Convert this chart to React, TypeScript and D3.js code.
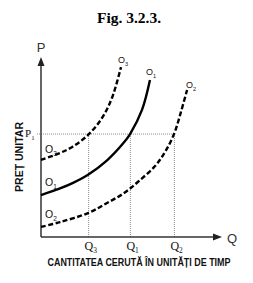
import { useEffect, useRef } from 'react';
import * as d3 from 'd3';

// curve points: [quantity, price] in 0..100 units
const curveO3: [number, number][] = [
  [0, 42.8], [10.5, 46.7], [17.7, 50.3], [26.0, 56.7], [33.7, 66.1], [39.2, 77.2], [44.2, 94.4],
];
const curveO1: [number, number][] = [
  [0, 23.3], [10.5, 27.0], [17.7, 30.1], [26.0, 34.6], [36.5, 42.6], [45.3, 51.9], [49.2, 57.2],
  [55.8, 70.6], [60.2, 87.2],
];
const curveO2: [number, number][] = [
  [0, 5.6], [10.5, 8.3], [26.0, 13.3], [36.5, 18.9], [45.9, 24.4], [54.1, 31.1], [63.0, 39.4],
  [68.5, 47.2], [73.5, 57.2], [77.3, 69.4], [80.7, 81.7],
];

const qTicks = [
  { label: 'Q', sub: '3', value: 26.3 },
  { label: 'Q', sub: '1', value: 49.4 },
  { label: 'Q', sub: '2', value: 73.7 },
];
const pTick = { label: 'P', sub: '1', value: 57.2 };

const title = 'Fig. 3.2.3.';
const xTitle = 'CANTITATEA CERUTĂ ÎN UNITĂȚI DE TIMP';
const yTitle = 'PREȚ UNITAR';

export default function App() {
  const svgRef = useRef<SVGSVGElement>(null);

  useEffect(() => {
    if (!svgRef.current) return;
    const width = 253;
    const height = 283;
    const svg = d3.select(svgRef.current);
    svg.selectAll('*').remove();
    svg.attr('width', width).attr('height', height);

    const x = d3.scaleLinear().domain([0, 100]).range([41, 222]);
    const y = d3.scaleLinear().domain([0, 100]).range([237, 57]);
    const sans = 'Liberation Sans, Arial, sans-serif';
    const serif = 'Liberation Serif, serif';

    const sub = (px: number, py: number, main: string, s: string, font: string, size: number, color = '#111') => {
      const t = svg.append('text')
        .attr('x', px).attr('y', py)
        .style('font-family', font)
        .style('font-size', `${size}px`)
        .style('fill', color);
      t.append('tspan').text(main);
      t.append('tspan').attr('dy', size * 0.28).style('font-size', `${size * 0.62}px`).text(s);
    };

    // title
    svg.append('text')
      .attr('x', 129).attr('y', 23)
      .attr('text-anchor', 'middle')
      .style('font-family', serif)
      .style('font-weight', 'bold')
      .style('font-size', '15.5px')
      .style('fill', '#000')
      .text(title);

    // dotted guides
    const grid = svg.append('g')
      .attr('stroke', '#8c8c8c')
      .attr('stroke-width', 1)
      .attr('stroke-dasharray', '1,1')
      .attr('fill', 'none');
    grid.append('line')
      .attr('x1', x(0) - 4).attr('x2', x(qTicks[2].value))
      .attr('y1', y(pTick.value)).attr('y2', y(pTick.value));
    qTicks.forEach(q => {
      grid.append('line')
        .attr('x1', x(q.value)).attr('x2', x(q.value))
        .attr('y1', y(pTick.value)).attr('y2', y(0));
    });

    // axes with arrows
    svg.append('line')
      .attr('x1', x(0)).attr('x2', x(0))
      .attr('y1', y(0)).attr('y2', y(100) + 6)
      .attr('stroke', '#333').attr('stroke-width', 1.5);
    svg.append('path')
      .attr('d', `M${x(0)},${y(100)} l-3.5,9 l7,0 z`)
      .attr('fill', '#222');
    svg.append('line')
      .attr('x1', x(0)).attr('x2', x(100) - 6)
      .attr('y1', y(0)).attr('y2', y(0))
      .attr('stroke', '#333').attr('stroke-width', 1.5);
    svg.append('path')
      .attr('d', `M${x(100)},${y(0)} l-9,-3.5 l0,7 z`)
      .attr('fill', '#222');

    // curves
    const line = d3.line<[number, number]>()
      .x(d => x(d[0]))
      .y(d => y(d[1]))
      .curve(d3.curveCatmullRom.alpha(0.5));

    [
      { data: curveO3, dash: '5,2.5' },
      { data: curveO1, dash: null },
      { data: curveO2, dash: '5,2.5' },
    ].forEach(c => {
      svg.append('path')
        .datum(c.data)
        .attr('d', line)
        .attr('fill', 'none')
        .attr('stroke', '#000')
        .attr('stroke-width', 2.4)
        .attr('stroke-dasharray', c.dash);
    });

    // axis letters
    svg.append('text')
      .attr('x', x(0)).attr('y', 52)
      .attr('text-anchor', 'middle')
      .style('font-family', sans)
      .style('font-size', '13px')
      .style('fill', '#333')
      .text('P');
    svg.append('text')
      .attr('x', 232).attr('y', 243)
      .attr('text-anchor', 'middle')
      .style('font-family', sans)
      .style('font-size', '13px')
      .style('fill', '#333')
      .text('Q');

    // tick labels
    qTicks.forEach(q => {
      sub(x(q.value) - 4, 250, q.label, q.sub, serif, 12);
    });
    sub(25, y(pTick.value) + 3, pTick.label, pTick.sub, serif, 11);

    // curve labels (left)
    sub(45, 153, 'O', '3', sans, 10.5);
    sub(45, 186, 'O', '1', sans, 10.5);
    sub(45, 218, 'O', '2', sans, 10.5);
    // curve labels (top)
    sub(118, 63, 'O', '3', sans, 9);
    sub(146, 75, 'O', '1', sans, 9);
    sub(186, 88, 'O', '2', sans, 9);

    // axis titles
    svg.append('text')
      .attr('x', 139).attr('y', 266)
      .attr('text-anchor', 'middle')
      .attr('textLength', 183)
      .attr('lengthAdjust', 'spacingAndGlyphs')
      .style('font-family', sans)
      .style('font-weight', 'bold')
      .style('font-size', '10px')
      .style('fill', '#111')
      .text(xTitle);
    svg.append('text')
      .attr('transform', 'translate(23,157) rotate(-90)')
      .attr('text-anchor', 'middle')
      .attr('textLength', 70)
      .attr('lengthAdjust', 'spacingAndGlyphs')
      .style('font-family', sans)
      .style('font-weight', 'bold')
      .style('font-size', '10px')
      .style('fill', '#111')
      .text(yTitle);
  }, []);

  return (
    <div style={{ position: 'absolute', left: 0, top: 0 }}>
      <svg ref={svgRef}></svg>
    </div>
  );
}
